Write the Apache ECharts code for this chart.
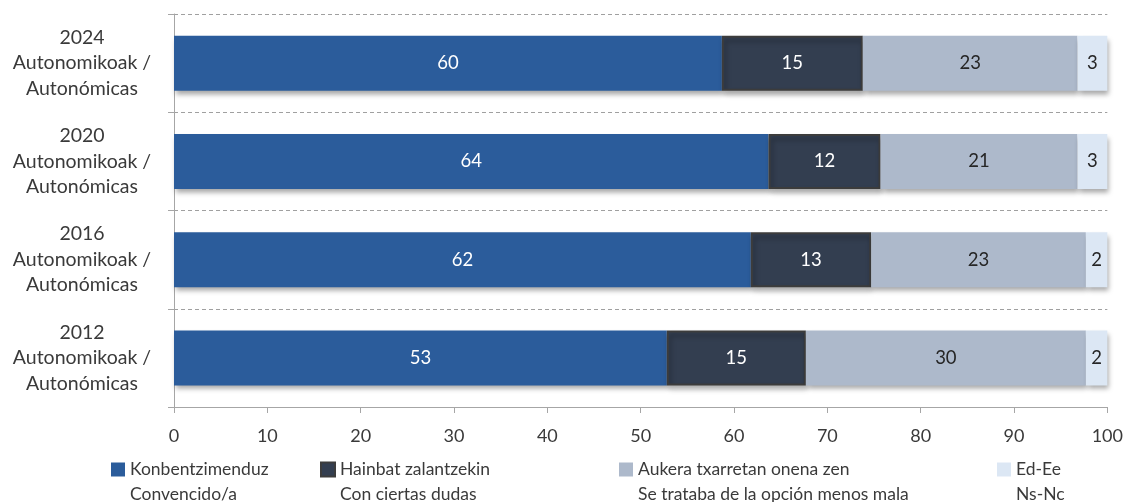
<!DOCTYPE html>
<html>
<head>
<meta charset="utf-8">
<script src="https://cdn.jsdelivr.net/npm/echarts@6/dist/echarts.min.js"></script>
<style>
html,body{margin:0;padding:0;background:#fff;}
#chart{width:1126px;height:502px;}
</style>
</head>
<body>
<div id="chart"></div>
<script>
var categories = ["2024\nAutonomikoak /\nAutonómicas", "2020\nAutonomikoak /\nAutonómicas", "2016\nAutonomikoak /\nAutonómicas", "2012\nAutonomikoak /\nAutonómicas"];
var seriesNames = ["Konbentzimenduz\nConvencido/a", "Hainbat zalantzekin\nCon ciertas dudas", "Aukera txarretan onena zen\nSe trataba de la opción menos mala", "Ed-Ee\nNs-Nc"];
// bar lengths
var convencido = [58.7, 63.7, 61.8, 52.8];
var dudas = [15.1, 12.0, 12.9, 14.9];
var menosMala = [23.0, 21.1, 23.0, 30.0];
var nsnc = [3.2, 3.2, 2.3, 2.3];
// printed labels
var convencidoLbl = ["60", "64", "62", "53"];
var dudasLbl = ["15", "12", "13", "15"];
var menosMalaLbl = ["23", "21", "23", "30"];
var nsncLbl = ["3", "3", "2", "2"];
var xTicks = [0, 10, 20, 30, 40, 50, 60, 70, 80, 90, 100];

var FONT = 'Lato';
var TXT = '#3a3a3a';
var colors = ['#2b5c9b', '#333e50', '#adb9cb', '#dce7f4'];
var values = [convencido, dudas, menosMala, nsnc];
var labels = [convencidoLbl, dudasLbl, menosMalaLbl, nsncLbl];
var labelColors = ['#ffffff', '#ffffff', '#262626', '#262626'];

var series = values.map(function (vals, i) {
  return {
    name: seriesNames[i],
    type: 'bar',
    stack: 'total',
    barWidth: 55,
    data: vals,
    itemStyle: {
      color: colors[i],
      borderColor: i === 1 ? '#3c3c3c' : colors[i],
      borderWidth: i === 1 ? 2 : 0,
      shadowColor: 'rgba(0,0,0,0.35)',
      shadowBlur: 5,
      shadowOffsetX: 2,
      shadowOffsetY: 4
    },
    label: {
      show: true,
      position: 'inside',
      color: labelColors[i],
      fontFamily: FONT,
      fontSize: 18.5,
      formatter: function (p) { return labels[i][p.dataIndex]; }
    }
  };
});

var legendLefts = [111, 320, 619, 997];
var legends = seriesNames.map(function (n, i) {
  return {
    data: [n],
    left: legendLefts[i],
    top: 432,
    orient: 'horizontal',
    itemWidth: 14,
    itemHeight: 14,
    itemGap: 0,
    padding: 0,
    selectedMode: false,
    icon: 'rect',
    formatter: function (name) { return '\u00a0\n' + name; },
    textStyle: {
      fontFamily: FONT,
      fontSize: 17.5,
      color: TXT,
      lineHeight: 25
    }
  };
});

var chart = echarts.init(document.getElementById('chart'), null, {renderer: 'canvas'});
chart.setOption({
  animation: false,
  color: colors,
  legend: legends,
  grid: {left: 174, right: 18, top: 14, bottom: 95, containLabel: false},
  xAxis: {
    type: 'value',
    min: xTicks[0],
    max: xTicks[xTicks.length - 1],
    interval: 10,
    axisLine: {show: true, lineStyle: {color: '#a6a6a6', width: 1}},
    axisTick: {show: true, length: 6, lineStyle: {color: '#a6a6a6'}},
    splitLine: {show: false},
    axisLabel: {fontFamily: FONT, fontSize: 18, color: TXT, margin: 20}
  },
  yAxis: {
    type: 'category',
    inverse: true,
    data: categories,
    axisLine: {show: true, lineStyle: {color: '#a6a6a6', width: 1}},
    axisTick: {show: true, length: 6, lineStyle: {color: '#a6a6a6'}},
    splitLine: {show: true, lineStyle: {color: '#a0a0a0', type: [4, 3], width: 1}},
    axisLabel: {
      fontFamily: FONT, fontSize: 19.5, color: TXT, lineHeight: 25.5,
      align: 'center', margin: 92
    }
  },
  series: series
});
</script>
</body>
</html>
